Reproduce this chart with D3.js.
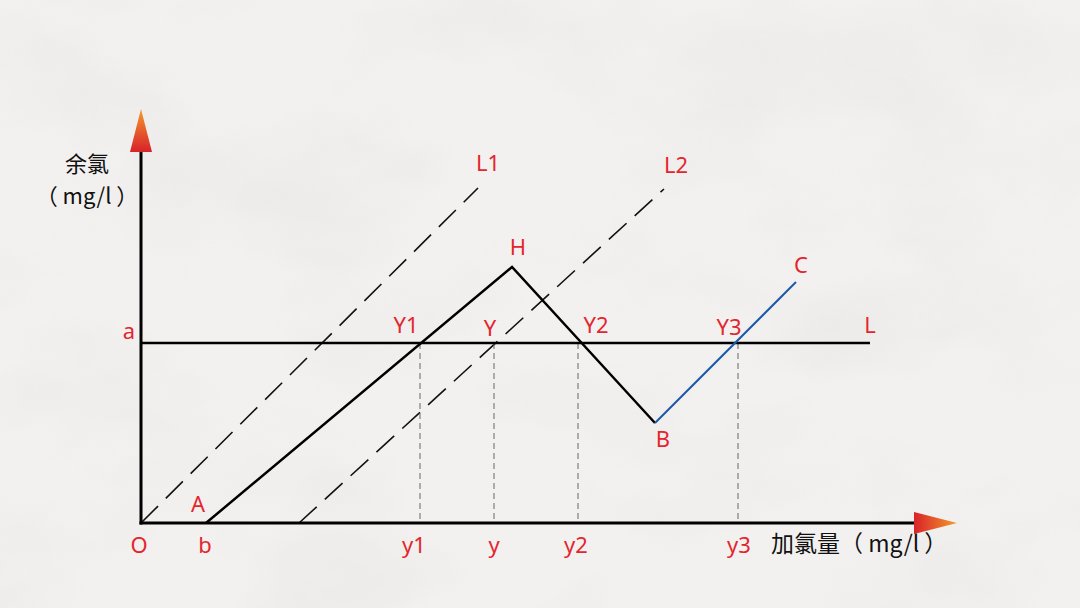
<!DOCTYPE html>
<html><head><meta charset="utf-8">
<script src="https://cdn.jsdelivr.net/npm/d3@7"></script>
<style>html,body{margin:0;padding:0;background:#f1efee;}svg{display:block;}</style>
</head><body>
<svg id="c" width="1080" height="608"></svg>
<script>
// ---- data (units: chart coordinates) ----
const curveABH = [[65,0],[371,256],[514,100]];          // A -> H -> B (black)
const curveBC  = [[514,100],[655,241]];                  // B -> C (blue)
const lineL1   = [[0,0],[337,335]];                      // dashed L1
const lineL2   = [[158,0],[523,334]];                    // dashed L2
const levelA   = 180;                                    // horizontal line L (a)
const levelEnd = 729;
const dropXs   = [279, 353, 437, 597];                   // y1, y, y2, y3
const xTickLabels = [["O",-2],["b",64],["y1",273],["y",353],["y2",435],["y3",598]];
const pointLabels = [["A",57,11],["H",377,268],["Y1",265,190],["Y",349,187],["Y2",455,190],["Y3",588,188],
                     ["B",522,76],["C",660,250],["L",729,190],["L1",347,352],["L2",535,350]];

const svg = d3.select("#c");
const x = d3.scaleLinear().domain([0,800]).range([141,941]);
const y = d3.scaleLinear().domain([0,400]).range([523,123]);

// background paper
const defs = svg.append("defs");
const f = defs.append("filter").attr("id","paper").attr("x",0).attr("y",0).attr("width","100%").attr("height","100%");
f.append("feTurbulence").attr("type","fractalNoise").attr("baseFrequency","0.005 0.008").attr("numOctaves",4).attr("seed",11).attr("result","n");
f.append("feColorMatrix").attr("in","n").attr("type","matrix")
  .attr("values","0 0 0 0 0.6  0 0 0 0 0.59  0 0 0 0 0.59  0.9 0.9 0.9 0 -1.25").attr("result","m");
svg.append("rect").attr("width",1080).attr("height",608).attr("fill","#f3f1f0");
svg.append("rect").attr("width",1080).attr("height",608).attr("filter","url(#paper)").attr("opacity",0.22);

const gy = defs.append("linearGradient").attr("id","gy").attr("x1",0).attr("y1",1).attr("x2",0).attr("y2",0);
gy.append("stop").attr("offset",0).attr("stop-color","#d8222a");
gy.append("stop").attr("offset",1).attr("stop-color","#f39a2c");
const gx = defs.append("linearGradient").attr("id","gx").attr("x1",0).attr("y1",0).attr("x2",1).attr("y2",0);
gx.append("stop").attr("offset",0).attr("stop-color","#d8222a");
gx.append("stop").attr("offset",1).attr("stop-color","#f59a2a");

const line = d3.line().x(d=>x(d[0])).y(d=>y(d[1]));

// dashed reference lines L1, L2
[lineL1,lineL2].forEach(l=>svg.append("path").attr("d",line(l)).attr("fill","none")
  .attr("stroke","#111").attr("stroke-width",1.6).attr("stroke-dasharray","24,11"));

// vertical drop lines
dropXs.forEach(v=>svg.append("line").attr("x1",x(v)).attr("x2",x(v)).attr("y1",y(levelA)).attr("y2",y(0))
  .attr("stroke","#666").attr("stroke-width",1).attr("stroke-dasharray","6,4"));

// horizontal L
svg.append("line").attr("x1",x(0)).attr("x2",x(levelEnd)).attr("y1",y(levelA)).attr("y2",y(levelA))
  .attr("stroke","#000").attr("stroke-width",2.5);

// curves
svg.append("path").attr("d",line(curveABH)).attr("fill","none").attr("stroke","#000").attr("stroke-width",2.5).attr("stroke-linejoin","miter");
svg.append("path").attr("d",line(curveBC)).attr("fill","none").attr("stroke","#1d5aa6").attr("stroke-width",2);

// axes
svg.append("line").attr("x1",x(0)).attr("x2",x(0)).attr("y1",y(0)+1.5).attr("y2",152).attr("stroke","#000").attr("stroke-width",3);
svg.append("line").attr("x1",x(0)-1.5).attr("x2",914).attr("y1",y(0)).attr("y2",y(0)).attr("stroke","#000").attr("stroke-width",3);
svg.append("path").attr("d",`M${x(0)-11},152 L${x(0)+11},152 L${x(0)},109 Z`).attr("fill","url(#gy)");
svg.append("path").attr("d",`M914,512 L914,534 L957,523 Z`).attr("fill","url(#gx)");

const red = "#e3262d";
const font = "'Noto Sans','Open Sans',sans-serif";
// tick-like labels under x axis
svg.selectAll("text.xl").data(xTickLabels).join("text").attr("class","xl")
  .attr("x",d=>x(d[1])).attr("y",553).attr("text-anchor","middle")
  .attr("font-family",font).attr("font-size",22).attr("fill",red).text(d=>d[0]);
// 'a'
svg.append("text").attr("x",129).attr("y",y(levelA)-4).attr("text-anchor","middle")
  .attr("font-family",font).attr("font-size",22).attr("fill",red).text("a");
// point labels
svg.selectAll("text.pl").data(pointLabels).join("text").attr("class","pl")
  .attr("x",d=>x(d[1])).attr("y",d=>y(d[2])).attr("text-anchor","middle")
  .attr("font-family",font).attr("font-size",22).attr("fill",red).text(d=>d[0]);

// axis titles
const cjk = "'Noto Sans CJK SC','Noto Sans',sans-serif";
svg.append("text").attr("x",87).attr("y",172).attr("text-anchor","middle").attr("font-family",cjk).attr("font-size",22).attr("fill","#111").text("余氯");
svg.append("text").attr("x",87).attr("y",204).attr("text-anchor","middle").attr("font-family",cjk).attr("font-size",22).attr("fill","#111").text("（ mg/l ）");
svg.append("text").attr("x",771).attr("y",552).attr("text-anchor","start").attr("font-family",cjk).attr("font-size",23).attr("fill","#111").text("加氯量（ mg/l ）");
</script>
</body></html>
